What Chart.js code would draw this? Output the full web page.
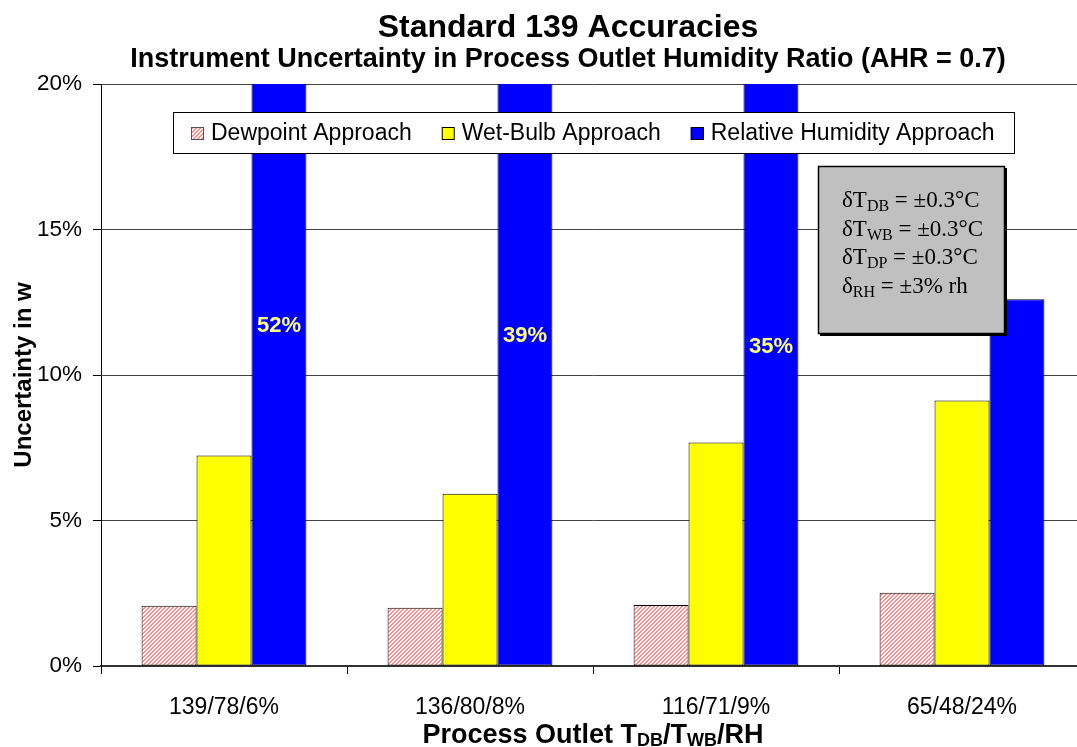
<!DOCTYPE html>
<html>
<head>
<meta charset="utf-8">
<script src="https://cdn.jsdelivr.net/npm/chart.js@4.4.0/dist/chart.umd.min.js"></script>
<style>
  html, body { margin: 0; padding: 0; overflow: hidden; background: #fff; }
  #wrap { width: 1136px; height: 747px; }
</style>
</head>
<body>
<div id="wrap"><canvas id="chart" width="1136" height="747"></canvas></div>
<script>
const categories = ['139/78/6%', '136/80/8%', '116/71/9%', '65/48/24%'];
const seriesNames = ['Dewpoint Approach', 'Wet-Bulb Approach', 'Relative Humidity Approach'];
const dewpoint = [2.07, 2.0, 2.1, 2.52];
const wetBulb = [7.23, 5.92, 7.68, 9.12];
const relHumidity = [52, 39, 35, 12.6];
// labels for the bars that run off the top of the axis
const rhLabels = ['52%', '39%', '35%', ''];
const rhLabelAt = [11.7, 11.33, 10.98, 0];
const yMin = 0, yMax = 20, yStep = 5;

const SANS = '"Liberation Sans", Arial, sans-serif';
const SERIF = '"Liberation Serif", "Times New Roman", serif';

// pink diagonal hatch for the dewpoint bars
function makeHatch() {
  const c = document.createElement('canvas');
  c.width = 4; c.height = 4;
  const g = c.getContext('2d');
  g.fillStyle = '#ffffff';
  g.fillRect(0, 0, 4, 4);
  g.fillStyle = '#ff8c8c';
  for (let i = 0; i < 4; i++) {
    g.fillRect(i, 3 - i, 1, 1);
    g.fillRect((i + 1) % 4, 3 - i, 1, 1);
  }
  return document.getElementById('chart').getContext('2d').createPattern(c, 'repeat');
}
const hatch = makeHatch();
const fills = [hatch, '#ffff00', '#0000ff'];

// draw text made of [text, isSub] parts, starting at x on baseline y
function richWidth(ctx, parts, mainFont, subFont) {
  let w = 0;
  parts.forEach(([t, sub]) => { ctx.font = sub ? subFont : mainFont; w += ctx.measureText(t).width; });
  return w;
}
function drawRich(ctx, parts, x, y, mainFont, subFont, drop) {
  ctx.textAlign = 'left';
  ctx.textBaseline = 'alphabetic';
  parts.forEach(([t, sub]) => {
    ctx.font = sub ? subFont : mainFont;
    ctx.fillText(t, x, sub ? y + drop : y);
    x += ctx.measureText(t).width;
  });
}

const decor = {
  id: 'decor',
  afterDatasetsDraw(chart) {
    const { ctx, scales: { y } } = chart;
    ctx.save();

    // percentage labels on the clipped blue bars
    const meta = chart.getDatasetMeta(2);
    ctx.font = 'bold 22px ' + SANS;
    ctx.fillStyle = '#ffff80';
    ctx.textAlign = 'center';
    ctx.textBaseline = 'middle';
    rhLabels.forEach((t, i) => {
      if (t) ctx.fillText(t, meta.data[i].x, y.getPixelForValue(rhLabelAt[i]));
    });

    // legend box
    ctx.fillStyle = '#fff';
    ctx.fillRect(173, 112, 841, 41);
    ctx.strokeStyle = '#000';
    ctx.lineWidth = 1;
    ctx.strokeRect(173.5, 112.5, 841, 41);
    ctx.font = '23px ' + SANS;
    ctx.textBaseline = 'middle';
    ctx.textAlign = 'left';
    let lx = 191;
    seriesNames.forEach((name, i) => {
      ctx.fillStyle = fills[i];
      ctx.fillRect(lx, 127, 13, 13);
      ctx.strokeStyle = i === 0 ? '#555' : '#000';
      ctx.strokeRect(lx + 0.5, 127.5, 12, 12);
      ctx.fillStyle = '#000';
      ctx.fillText(name, lx + 20, 134);
      lx += 20 + ctx.measureText(name).width + 30;
    });

    // accuracy note box
    ctx.fillStyle = '#000';
    ctx.fillRect(820, 168, 187, 168);
    ctx.fillStyle = '#c0c0c0';
    ctx.fillRect(818, 166, 187, 168);
    ctx.strokeStyle = '#000';
    ctx.lineWidth = 1.5;
    ctx.strokeRect(818.5, 166.5, 186, 167);
    ctx.fillStyle = '#000';
    const mf = '23px ' + SERIF, sf = '16px ' + SERIF;
    const lines = [
      [['\u03b4T'], ['DB', true], [' = \u00b10.3\u00b0C']],
      [['\u03b4T'], ['WB', true], [' = \u00b10.3\u00b0C']],
      [['\u03b4T'], ['DP', true], [' = \u00b10.3\u00b0C']],
      [['\u03b4'], ['RH', true], [' = \u00b13% rh']]
    ];
    lines.forEach((p, i) => drawRich(ctx, p, 842, 207 + i * 28.5, mf, sf, 4));
    ctx.restore();
  },
  afterDraw(chart) {
    const { ctx, chartArea: a } = chart;
    ctx.save();
    ctx.fillStyle = '#000';
    ctx.textAlign = 'center';
    ctx.textBaseline = 'alphabetic';
    ctx.font = 'bold 32px ' + SANS;
    ctx.fillText('Standard 139 Accuracies', 568, 37);
    ctx.font = 'bold 27px ' + SANS;
    ctx.fillText('Instrument Uncertainty in Process Outlet Humidity Ratio (AHR = 0.7)', 568, 67);

    // x axis title with subscripts
    const parts = [['Process Outlet T'], ['DB', true], ['/T'], ['WB', true], ['/RH']];
    const mf = 'bold 27px ' + SANS, sf = 'bold 18px ' + SANS;
    const w = richWidth(ctx, parts, mf, sf);
    drawRich(ctx, parts, (a.left + a.right) / 2 - w / 2, 743, mf, sf, 3);
    ctx.restore();
  }
};

new Chart(document.getElementById('chart'), {
  type: 'bar',
  data: {
    labels: categories,
    datasets: [
      { label: seriesNames[0], data: dewpoint, backgroundColor: fills[0] },
      { label: seriesNames[1], data: wetBulb, backgroundColor: fills[1] },
      { label: seriesNames[2], data: relHumidity, backgroundColor: fills[2] }
    ].map(d => Object.assign(d, {
      borderColor: '#000', borderWidth: 1, borderSkipped: false,
      barPercentage: 1, categoryPercentage: 0.67
    }))
  },
  options: {
    responsive: false,
    animation: false,
    layout: { padding: { top: 84, right: 51, bottom: 0, left: 0 } },
    plugins: {
      legend: { display: false },
      tooltip: { enabled: false },
      title: { display: false }
    },
    scales: {
      x: {
        afterFit: s => { s.height = 81; },
        grid: { display: true, drawOnChartArea: false, drawTicks: true, tickLength: 8, color: '#000', offset: true },
        border: { display: true, color: '#333', width: 2 },
        ticks: { color: '#000', font: { family: SANS, size: 23 }, padding: 20, maxRotation: 0 }
      },
      y: {
        min: yMin,
        max: yMax,
        afterFit: s => { s.width = 101; },
        grid: { color: '#444', lineWidth: 1, tickLength: 8, tickColor: '#000' },
        border: { display: true, color: '#000', width: 1 },
        ticks: {
          stepSize: yStep,
          color: '#000',
          padding: 11,
          font: { family: SANS, size: 22.5 },
          callback: v => v + '%'
        },
        title: {
          display: true,
          text: 'Uncertainty in w',
          color: '#000',
          font: { family: SANS, size: 24, weight: 'bold' },
          padding: { top: 10, bottom: 0 }
        }
      }
    }
  },
  plugins: [decor]
});
</script>
</body>
</html>
